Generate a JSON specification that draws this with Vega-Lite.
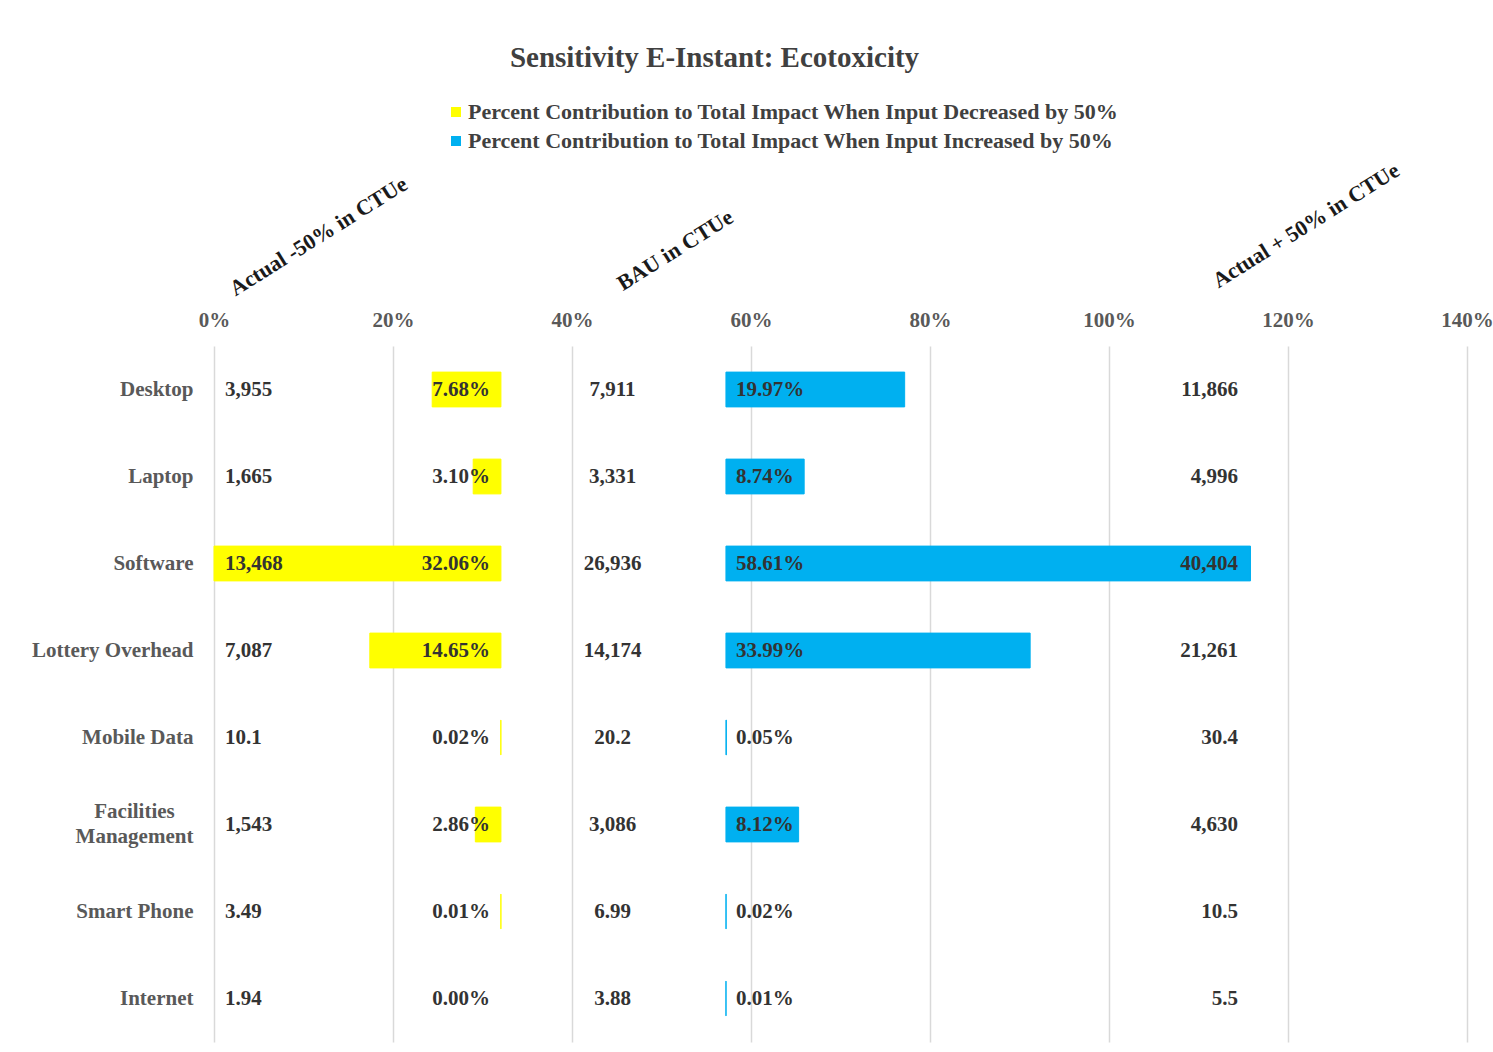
{
  "$schema": "https://vega.github.io/schema/vega-lite/v6.json",
  "width": 1253,
  "height": 696,
  "autosize": {"type": "none"},
  "padding": {"left": 214, "top": 346, "right": 26, "bottom": 10},
  "background": "white",
  "title": {
    "text": "Sensitivity E-Instant: Ecotoxicity",
    "font": "Liberation Serif",
    "fontSize": 29,
    "fontWeight": "bold",
    "color": "#404040",
    "anchor": "middle",
    "dx": -126,
    "dy": -24
  },
  "config": {"view": {"stroke": null}, "font": "Liberation Serif"},
  "data": {
    "values": [
      {"cat": "Desktop", "minus": 3955, "dec": 0.0768, "bau": 7911, "inc": 0.1997, "plus": 11866},
      {"cat": "Laptop", "minus": 1665, "dec": 0.0310, "bau": 3331, "inc": 0.0874, "plus": 4996},
      {"cat": "Software", "minus": 13468, "dec": 0.3206, "bau": 26936, "inc": 0.5861, "plus": 40404},
      {"cat": "Lottery Overhead", "minus": 7087, "dec": 0.1465, "bau": 14174, "inc": 0.3399, "plus": 21261},
      {"cat": "Mobile Data", "minus": 10.1, "dec": 0.0002, "bau": 20.2, "inc": 0.0005, "plus": 30.4},
      {"cat": "Facilities Management", "minus": 1543, "dec": 0.0286, "bau": 3086, "inc": 0.0812, "plus": 4630},
      {"cat": "Smart Phone", "minus": 3.49, "dec": 0.0001, "bau": 6.99, "inc": 0.0002, "plus": 10.5},
      {"cat": "Internet", "minus": 1.94, "dec": 0.0, "bau": 3.88, "inc": 0.0001, "plus": 5.5}
    ]
  },
  "layer": [
    {
      "mark": {"type": "bar", "stroke": "#FFFF00", "strokeWidth": 1},
      "encoding": {
        "y": {
          "field": "cat", "type": "nominal", "sort": null, "title": null,
          "scale": {"paddingInner": 0.6, "paddingOuter": 0.3},
          "axis": {
            "domain": false, "ticks": false, "grid": false,
            "labelFont": "Liberation Serif", "labelFontSize": 21, "labelFontWeight": "bold",
            "labelColor": "#595959", "labelLimit": 300, "labelLineHeight": 25,
            "labelExpr": "datum.value == 'Facilities Management' ? ['Facilities', 'Management'] : datum.value",
            "labelAlign": {"condition": {"test": "datum.value == 'Facilities Management'", "value": "center"}, "value": "right"},
            "labelPadding": {"condition": {"test": "datum.value == 'Facilities Management'", "value": 80}, "value": 21},
            "labelOffset": {"condition": {"test": "datum.value == 'Facilities Management'", "value": -13}, "value": 0}
          }
        },
        "x": {
          "field": "dec", "type": "quantitative", "axis": null,
          "scale": {"domain": [-1.0794, 0.3206], "reverse": true, "nice": false, "zero": false}
        },
        "x2": {"datum": 0},
        "strokeOpacity": {"condition": {"test": "datum.dec > 0", "value": 1}, "value": 0},
        "color": {
          "datum": "Percent Contribution to Total Impact When Input Decreased by 50%",
          "type": "nominal",
          "scale": {
            "domain": ["Percent Contribution to Total Impact When Input Decreased by 50%", "Percent Contribution to Total Impact When Input Increased by 50%"],
            "range": ["#FFFF00", "#00B0F0"]
          },
          "legend": {
            "orient": "none", "legendX": 231, "legendY": -245, "title": null, "padding": 0,
            "symbolType": "square", "symbolSize": 100, "symbolStrokeWidth": 0,
            "labelFont": "Liberation Serif", "labelFontSize": 22, "labelFontWeight": "bold",
            "labelColor": "#404040", "labelLimit": 900, "rowPadding": 7, "labelOffset": 1
          }
        }
      }
    },
    {
      "mark": {"type": "bar", "stroke": "#00B0F0", "strokeWidth": 1},
      "encoding": {
        "y": {"field": "cat", "type": "nominal", "sort": null},
        "x": {
          "field": "inc", "type": "quantitative", "axis": null,
          "scale": {"domain": [-0.572, 0.828], "nice": false, "zero": false}
        },
        "x2": {"datum": 0},
        "color": {"datum": "Percent Contribution to Total Impact When Input Increased by 50%", "type": "nominal"}
      }
    },
    {
      "layer": [
        {
          "mark": {"type": "text", "align": "left", "baseline": "middle", "font": "Liberation Serif", "fontSize": 21, "fontWeight": "bold", "color": "#333333"},
          "encoding": {
            "y": {"field": "cat", "type": "nominal", "sort": null},
            "x": {
              "datum": 0.0123, "type": "quantitative",
              "scale": {"domain": [0, 1.4], "nice": false, "zero": false},
              "axis": {
                "orient": "top", "title": null, "values": [0, 0.2, 0.4, 0.6, 0.8, 1.0, 1.2, 1.4],
                "format": ".0%", "domain": false, "ticks": false, "labelFlush": false, "labelOverlap": false,
                "labelFont": "Liberation Serif", "labelFontSize": 21, "labelFontWeight": "bold",
                "labelColor": "#595959", "labelPadding": 16,
                "grid": true, "gridColor": "#d9d9d9", "gridWidth": 1.5
              }
            },
            "text": {"field": "minus", "type": "quantitative", "format": ",.5~r"}
          }
        },
        {
          "mark": {"type": "text", "align": "right", "baseline": "middle", "font": "Liberation Serif", "fontSize": 21, "fontWeight": "bold", "color": "#333333"},
          "encoding": {
            "y": {"field": "cat", "type": "nominal", "sort": null},
            "x": {"datum": 0.3084, "type": "quantitative"},
            "text": {"field": "dec", "type": "quantitative", "format": ".2%"}
          }
        },
        {
          "mark": {"type": "text", "align": "center", "baseline": "middle", "font": "Liberation Serif", "fontSize": 21, "fontWeight": "bold", "color": "#333333"},
          "encoding": {
            "y": {"field": "cat", "type": "nominal", "sort": null},
            "x": {"datum": 0.4453, "type": "quantitative"},
            "text": {"field": "bau", "type": "quantitative", "format": ",.5~r"}
          }
        },
        {
          "mark": {"type": "text", "align": "left", "baseline": "middle", "font": "Liberation Serif", "fontSize": 21, "fontWeight": "bold", "color": "#333333"},
          "encoding": {
            "y": {"field": "cat", "type": "nominal", "sort": null},
            "x": {"datum": 0.5832, "type": "quantitative"},
            "text": {"field": "inc", "type": "quantitative", "format": ".2%"}
          }
        },
        {
          "mark": {"type": "text", "align": "right", "baseline": "middle", "font": "Liberation Serif", "fontSize": 21, "fontWeight": "bold", "color": "#333333"},
          "encoding": {
            "y": {"field": "cat", "type": "nominal", "sort": null},
            "x": {"datum": 1.144, "type": "quantitative"},
            "text": {"field": "plus", "type": "quantitative", "format": ",.5~r"}
          }
        },
        {
          "data": {"values": [{}]},
          "mark": {"type": "text", "align": "center", "baseline": "middle", "angle": -32, "dx": 81, "dy": -130, "font": "Liberation Serif", "fontSize": 22, "fontWeight": "bold", "color": "#1a1a1a"},
          "encoding": {
            "y": {"datum": "Desktop", "type": "nominal"},
            "x": {"datum": 0.117, "type": "quantitative"},
            "text": {"value": "Actual -50% in CTUe"}
          }
        },
        {
          "data": {"values": [{}]},
          "mark": {"type": "text", "align": "center", "baseline": "middle", "angle": -32, "dx": 74, "dy": -118, "font": "Liberation Serif", "fontSize": 22, "fontWeight": "bold", "color": "#1a1a1a"},
          "encoding": {
            "y": {"datum": "Desktop", "type": "nominal"},
            "x": {"datum": 0.515, "type": "quantitative"},
            "text": {"value": "BAU in CTUe"}
          }
        },
        {
          "data": {"values": [{}]},
          "mark": {"type": "text", "align": "center", "baseline": "middle", "angle": -32, "dx": 87, "dy": -139, "font": "Liberation Serif", "fontSize": 22, "fontWeight": "bold", "color": "#1a1a1a"},
          "encoding": {
            "y": {"datum": "Desktop", "type": "nominal"},
            "x": {"datum": 1.22, "type": "quantitative"},
            "text": {"value": "Actual + 50% in CTUe"}
          }
        }
      ]
    }
  ],
  "resolve": {"scale": {"x": "independent"}}
}
